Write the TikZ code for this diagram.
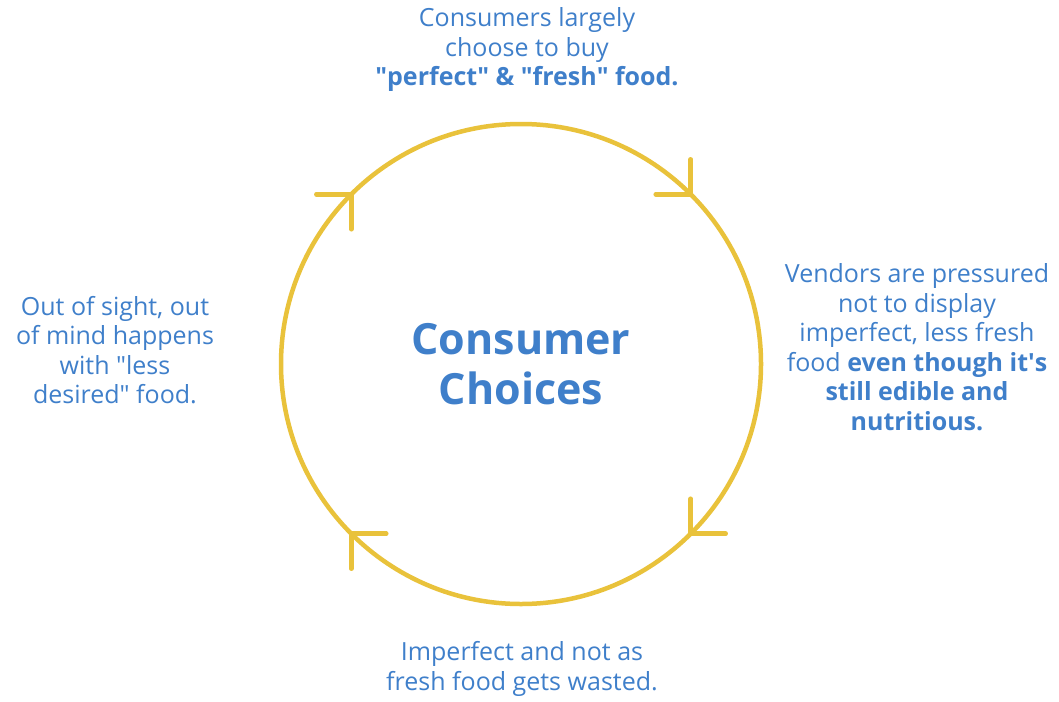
\documentclass[tikz,border=0pt]{standalone}
\usepackage{fontspec}
\setmainfont{Open Sans}
\usepackage{tikz}
\usetikzlibrary{shapes.geometric}
\definecolor{cycleyellow}{HTML}{E9C23B}
\definecolor{textblue}{HTML}{3F7FCA}
\newcommand{\dq}{\textquotedbl}
\tikzstyle{ring} = [circle, draw=cycleyellow, line width=4.5pt, minimum size=480pt, inner sep=0pt, outer sep=0pt, text=textblue, font=\fontsize{43}{50}\selectfont\bfseries, align=center]
\tikzstyle{caption} = [text=textblue, font=\fontsize{25}{29.5}\selectfont, align=center, inner sep=0pt]
\tikzstyle{barb} = [draw=cycleyellow, line width=4.5pt, line cap=round, line join=round]

\begin{document}
\begin{tikzpicture}[x=1pt, y=-1pt]

  \useasboundingbox (0,0) rectangle (1059,701);

  \node (cycle) [ring] at (521,364) {Consumer\\Choices};

  \node (buy) [caption] at (527,50) {Consumers largely\\choose to buy\\\textbf{\dq perfect\dq{} \& \dq fresh\dq{} food.}};
  \node (vendors) [caption] at (917,347) {Vendors are pressured\\not to display\\imperfect, less fresh\\food \textbf{even though it\textquotesingle s}\\\textbf{still edible and}\\\textbf{nutritious.}};
  \node (wasted) [caption] at (522,669) {Imperfect and not as\\fresh food gets wasted.};
  \node (unseen) [caption] at (115,350) {Out of sight, out\\of mind happens\\with \dq less\\desired\dq{} food.};

  \draw [barb] ([xshift=-35pt]cycle.135) -- (cycle.135) -- ([yshift=-35pt]cycle.135);
  \draw [barb] ([yshift=35pt]cycle.45) -- (cycle.45) -- ([xshift=-35pt]cycle.45);
  \draw [barb] ([yshift=35pt]cycle.-45) -- (cycle.-45) -- ([xshift=35pt]cycle.-45);
  \draw [barb] ([xshift=35pt]cycle.-135) -- (cycle.-135) -- ([yshift=-35pt]cycle.-135);

\end{tikzpicture}
\end{document}
